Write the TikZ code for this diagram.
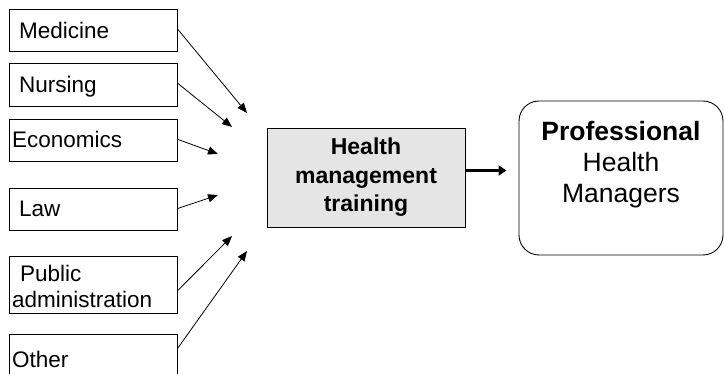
\documentclass[tikz,border=0pt]{standalone}
\usepackage{fontspec}
\setmainfont{Liberation Sans}
\usetikzlibrary{arrows.meta}
\begin{document}
\begin{tikzpicture}[x=1pt,y=-1pt,
  src/.style={draw=black,line width=0.9pt,rectangle,anchor=north west,minimum width=168pt,inner sep=0pt},
  lbl/.style={anchor=base west,inner sep=0pt,font=\fontsize{22.5}{26}\selectfont},
  feed/.style={line width=0.8pt,-{Triangle[length=10pt,width=8pt]}},
]
\useasboundingbox (0,0) rectangle (724,374);
\node[src,minimum height=42pt] (med) at (9,9) {};
\node[src,minimum height=43pt] (nur) at (9,63) {};
\node[src,minimum height=42pt] (eco) at (9,119) {};
\node[src,minimum height=42pt] (law) at (9,188) {};
\node[src,minimum height=57pt] (pub) at (9,256) {};
\node[src,minimum height=48pt] (oth) at (9,334) {};

\node[lbl] (medt) at (19,39) {Medicine};
\node[lbl] (nurt) at (19,93) {Nursing};
\node[lbl] (ecot) at (12,148) {Economics};
\node[lbl] (lawt) at (19,217) {Law};
\node[lbl] (pubt1) at (20,282) {Public};
\node[lbl] (pubt2) at (12,308) {administration};
\node[lbl] (otht) at (12,368) {Other};

\node[draw=black,line width=0.9pt,fill=black!10,minimum width=198pt,minimum height=99pt,
  align=center,font=\fontsize{23}{28.5}\selectfont\bfseries] (hmt) at (366,177.5)
  {Health\\management\\training};

\node[draw=black,line width=0.9pt,rounded corners=20pt,minimum width=204pt,minimum height=154pt] (phm) at (621,178) {};
\node[align=center,font=\fontsize{26.5}{31}\selectfont,anchor=north] (phmtext) at (621,118)
  {\textbf{Professional}\\Health\\Managers};

\coordinate (t1) at (247,113);
\coordinate (t2) at (232,127);
\coordinate (t3) at (218,154);
\coordinate (t4) at (218,195);
\coordinate (t5) at (232,236);
\coordinate (t6) at (247,251);

\draw[feed] ([yshift=1pt]med.east) -- (t1);
\draw[feed] ([yshift=1.5pt]nur.east) -- (t2);
\draw[feed] ([yshift=1pt]eco.east) -- (t3);
\draw[feed] ([yshift=1pt]law.east) -- (t4);
\draw[feed] ([yshift=-5.5pt]pub.east) -- (t5);
\draw[feed] ([yshift=-14pt]oth.north east) -- (t6);

\draw[line width=3pt,-{Triangle[length=8pt,width=10pt]},shorten >=12pt]
  ([yshift=7pt]hmt.east) -- ([yshift=7pt]hmt.east -| phm.west);
\end{tikzpicture}
\end{document}
